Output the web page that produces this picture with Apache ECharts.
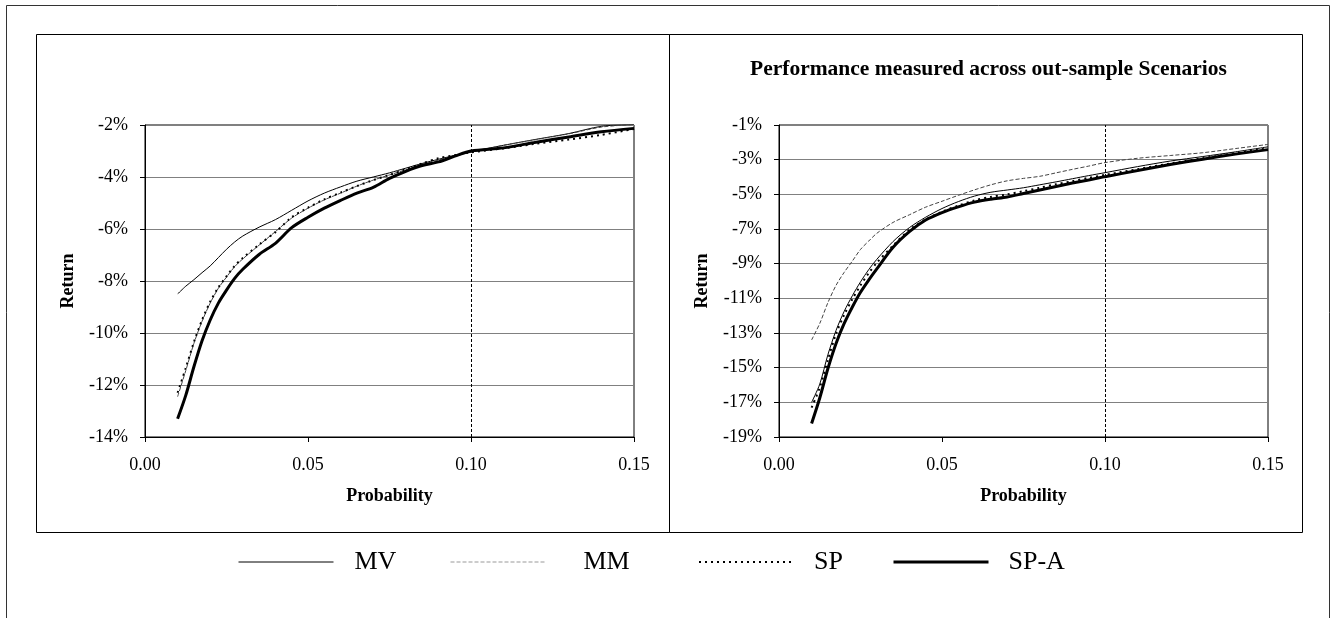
<!DOCTYPE html>
<html>
<head>
<meta charset="utf-8">
<title>Return vs Probability</title>
<script src="https://cdn.jsdelivr.net/npm/echarts@6/dist/echarts.min.js"></script>
<style>
html, body { margin: 0; padding: 0; background: #fff; }
#chart { width: 1333px; height: 618px; }
</style>
</head>
<body>
<div id="chart"></div>
<script>
// x values shared by every curve
var probability = [0.010, 0.0125, 0.015, 0.0175, 0.020, 0.0225, 0.025, 0.0275, 0.030, 0.035, 0.040, 0.045, 0.050,
  0.055, 0.060, 0.065, 0.070, 0.075, 0.080, 0.085, 0.090, 0.095, 0.100, 0.110, 0.120, 0.130, 0.140, 0.150];

// left panel (returns in %)
var mvLeft  = [-8.50, -8.20, -7.95, -7.68, -7.42, -7.10, -6.78, -6.50, -6.27, -5.93, -5.64, -5.28, -4.92,
  -4.62, -4.38, -4.16, -4.00, -3.84, -3.66, -3.48, -3.32, -3.17, -3.03, -2.78, -2.55, -2.33, -2.05, -1.98];
var mmLeft  = [-12.45, -11.45, -10.40, -9.55, -8.85, -8.28, -7.85, -7.45, -7.15, -6.62, -6.10, -5.58, -5.20,
  -4.88, -4.62, -4.35, -4.12, -3.92, -3.72, -3.52, -3.35, -3.18, -3.05, -2.78, -2.56, -2.34, -2.08, -1.98];
var spLeft  = [-12.30, -11.35, -10.35, -9.50, -8.80, -8.25, -7.82, -7.42, -7.12, -6.60, -6.12, -5.55, -5.18,
  -4.86, -4.60, -4.35, -4.12, -3.92, -3.70, -3.48, -3.28, -3.16, -3.05, -2.90, -2.72, -2.56, -2.38, -2.15];
var spaLeft = [-13.30, -12.40, -11.30, -10.30, -9.50, -8.85, -8.35, -7.90, -7.55, -6.98, -6.55, -5.95, -5.55,
  -5.20, -4.90, -4.62, -4.40, -4.05, -3.78, -3.56, -3.42, -3.20, -3.00, -2.88, -2.66, -2.46, -2.26, -2.13];

// right panel: out-sample scenarios
var mmRight  = [-13.40, -12.45, -11.25, -10.25, -9.50, -8.85, -8.18, -7.70, -7.25, -6.62, -6.18, -5.74, -5.40,
  -5.06, -4.74, -4.45, -4.22, -4.08, -3.96, -3.76, -3.56, -3.37, -3.17, -2.92, -2.76, -2.60, -2.36, -2.12];
var mvRight  = [-17.00, -15.95, -14.25, -12.85, -11.75, -10.85, -10.05, -9.35, -8.75, -7.72, -6.92, -6.32, -5.82,
  -5.42, -5.10, -4.88, -4.75, -4.62, -4.45, -4.28, -4.10, -3.92, -3.75, -3.40, -3.08, -2.82, -2.55, -2.26];
var spRight  = [-17.30, -16.15, -14.55, -13.05, -11.95, -11.05, -10.25, -9.55, -8.95, -7.95, -7.05, -6.45, -6.00,
  -5.65, -5.35, -5.15, -5.00, -4.82, -4.62, -4.42, -4.24, -4.05, -3.88, -3.55, -3.22, -2.92, -2.62, -2.34];
var spaRight = [-18.22, -16.75, -15.05, -13.60, -12.45, -11.50, -10.65, -9.95, -9.30, -8.05, -7.15, -6.48, -6.05,
  -5.72, -5.45, -5.28, -5.15, -4.95, -4.75, -4.55, -4.35, -4.17, -3.98, -3.63, -3.28, -2.97, -2.68, -2.42];

var seriesNames = ['MV', 'MM', 'SP', 'SP-A'];
var leftTicks = [-14, -12, -10, -8, -6, -4, -2];
var rightTicks = [-19, -17, -15, -13, -11, -9, -7, -5, -3, -1];
var cutoff = 0.10;

var serif = "'Liberation Serif', 'Times New Roman', serif";

var styles = {
  'MV':   { color: '#000', width: 1 },
  'MM':   { color: '#444', width: 1, type: [4, 2] },
  'SP':   { color: '#000', width: 2, type: [2, 4] },
  'SP-A': { color: '#000', width: 3 }
};

function pairs(vals) {
  return vals.map(function (v, i) { return [probability[i], v]; });
}

function makeSeries(name, vals, idx) {
  var s = {
    name: name,
    type: 'line',
    xAxisIndex: idx,
    yAxisIndex: idx,
    data: pairs(vals),
    symbol: 'none',
    smooth: 0.3,
    lineStyle: styles[name],
    itemStyle: { color: styles[name].color },
    z: name === 'SP-A' ? 4 : 3
  };
  if (name === 'SP-A') {
    s.markLine = {
      silent: true,
      symbol: ['none', 'none'],
      label: { show: false },
      lineStyle: { color: '#000', width: 1, type: [3, 2] },
      data: [{ xAxis: cutoff }]
    };
  }
  return s;
}

function xAxisFor(idx) {
  return {
    type: 'value', gridIndex: idx, min: 0, max: 0.15, interval: 0.05,
    name: 'Probability', nameLocation: 'middle', nameGap: 50,
    nameTextStyle: { fontFamily: serif, fontSize: 18, fontWeight: 'bold', color: '#000' },
    axisLine: { lineStyle: { color: '#000', width: 1 } },
    axisTick: { inside: false, length: 5, lineStyle: { color: '#000' } },
    axisLabel: { margin: 19, fontFamily: serif, fontSize: 18, color: '#000',
      formatter: function (v) { return v.toFixed(2); } },
    splitLine: { show: false }
  };
}

function yAxisFor(idx, ticks) {
  return {
    type: 'value', gridIndex: idx, min: ticks[0], max: ticks[ticks.length - 1],
    name: 'Return', nameLocation: 'middle', nameGap: 68,
    nameTextStyle: { fontFamily: serif, fontSize: 18, fontWeight: 'bold', color: '#000' },
    axisLine: { show: true, lineStyle: { color: '#000', width: 1 } },
    axisTick: { show: true, inside: false, length: 5, lineStyle: { color: '#000' }, customValues: ticks },
    axisLabel: { margin: 17, fontFamily: serif, fontSize: 18, color: '#000', customValues: ticks,
      formatter: function (v) { return v + '%'; } },
    splitLine: { show: true, lineStyle: { color: '#808080', width: 1 } }
  };
}

var series = [];
[mvLeft, mmLeft, spLeft, spaLeft].forEach(function (v, i) { series.push(makeSeries(seriesNames[i], v, 0)); });
[mvRight, mmRight, spRight, spaRight].forEach(function (v, i) { series.push(makeSeries(seriesNames[i], v, 1)); });

var legendLeft = [238, 450, 698, 892];
var legendPad = [16, 33, 15, 15];
var legends = seriesNames.map(function (n, i) {
  var ls = { color: styles[n].color, width: styles[n].width, type: styles[n].type || 'solid' };
  if (n === 'MM') ls.color = '#999';
  return {
    data: [n], left: legendLeft[i], top: 549, padding: 0, itemWidth: 95, itemHeight: 14,
    selectedMode: false,
    itemStyle: { opacity: 0 },
    lineStyle: ls,
    textStyle: { fontFamily: serif, fontSize: 26, color: '#000', padding: [16, 0, 0, legendPad[i]] }
  };
});

var chart = echarts.init(document.getElementById('chart'), null, { renderer: 'canvas' });
chart.setOption({
  animation: false,
  backgroundColor: '#fff',
  title: {
    text: 'Performance measured across out-sample Scenarios',
    left: 745, top: 53,
    textStyle: { fontFamily: serif, fontSize: 21.5, fontWeight: 'bold', color: '#000' }
  },
  graphic: [
    { type: 'rect', silent: true, z: -10, shape: { x: 6.5, y: 5.5, width: 1323, height: 640 },
      style: { fill: 'none', stroke: '#333', lineWidth: 1 } },
    { type: 'rect', silent: true, z: -10, shape: { x: 36.5, y: 34.5, width: 633, height: 498 },
      style: { fill: 'none', stroke: '#000', lineWidth: 1 } },
    { type: 'rect', silent: true, z: -10, shape: { x: 669.5, y: 34.5, width: 633, height: 498 },
      style: { fill: 'none', stroke: '#000', lineWidth: 1 } }
  ],
  legend: legends,
  grid: [
    { left: 145, top: 125, width: 489, height: 312, show: true, borderColor: '#000', borderWidth: 1 },
    { left: 779, top: 125, width: 489, height: 312, show: true, borderColor: '#000', borderWidth: 1 }
  ],
  xAxis: [xAxisFor(0), xAxisFor(1)],
  yAxis: [yAxisFor(0, leftTicks), yAxisFor(1, rightTicks)],
  series: series
});
</script>
</body>
</html>
